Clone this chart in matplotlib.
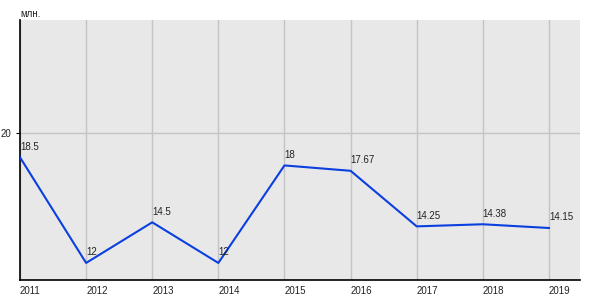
import matplotlib
matplotlib.use("Agg")
import matplotlib.pyplot as plt

years = [2011, 2012, 2013, 2014, 2015, 2016, 2017, 2018, 2019]
values = [18.5, 12, 14.5, 12, 18, 17.67, 14.25, 14.38, 14.15]
labels = ["18.5", "12", "14.5", "12", "18", "17.67", "14.25", "14.38", "14.15"]

plt.rcParams['font.family'] = ['Liberation Sans', 'DejaVu Sans']

fig = plt.figure(figsize=(6, 3), dpi=100)
ax = fig.add_axes([20/600, 20/300, 560/600, 260/300])
ax.set_facecolor('#e8e8e8')

ax.plot(years, values, color='#0a3fe0', linewidth=1.5, zorder=3)
for x, y, t in zip(years, values, labels):
    ax.annotate(t, (x, y), xytext=(0, 4), textcoords='offset points',
                ha='left', va='bottom', fontsize=7, color='#222222', zorder=4)

ax.set_xlim(2011, 2019.47)
ax.set_ylim(10.95, 26.95)
ax.set_xticks(years)
ax.set_xticklabels([str(y) for y in years])
ax.set_yticks([20])
ax.set_yticklabels(['20'])
ax.tick_params(axis='both', labelsize=7, length=3, color='black', pad=3,
               labelcolor='#222222')
ax.tick_params(axis='x', length=0, pad=4)
for lab in ax.get_xticklabels():
    lab.set_horizontalalignment('left')

ax.grid(True, color='#c4c4c4', linewidth=1)
ax.set_axisbelow(True)
for s in ['top', 'right']:
    ax.spines[s].set_visible(False)
for s in ['left', 'bottom']:
    ax.spines[s].set_color('black')
    ax.spines[s].set_linewidth(1.2)

fig.text(20/600, 1 - 14/300, 'млн.', fontsize=7, va='center', ha='left',
         color='#222222')

fig.savefig('out.png', dpi=100)
